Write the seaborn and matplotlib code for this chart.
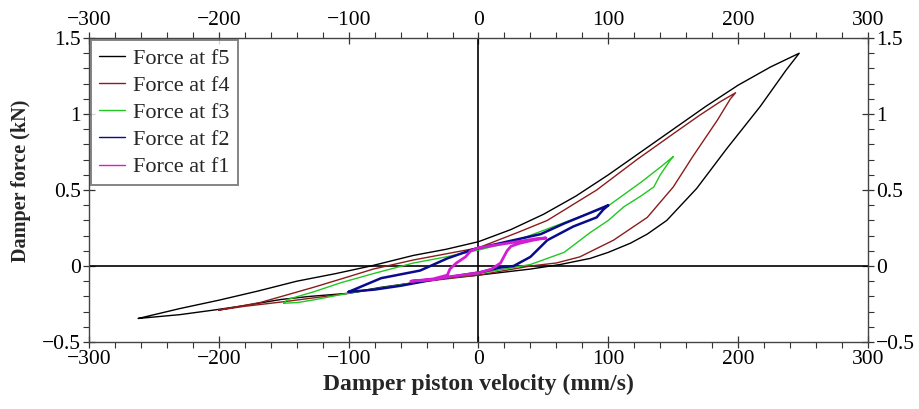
import pandas as pd
import numpy as np
import matplotlib
matplotlib.use('Agg')
import matplotlib.pyplot as plt
import seaborn as sns
from matplotlib.ticker import MultipleLocator

# Hysteresis loops: each loop = upper branch (min -> max)
# followed by the lower branch (max -> min).

# f5 (black)
f5_vel = [-262, -230, -200, -170, -140, -110, -83, -50, -25, 0, 25, 50, 75, 100, 125, 150, 175, 200, 225, 247,
          237, 217, 191, 168, 145, 130, 117, 100, 86, 63, 40, 20, 0, -25, -50, -75, -101, -130, -152, -180, -204, -230, -262]
f5_force = [-0.345, -0.28, -0.225, -0.165, -0.10, -0.05, 0.0, 0.07, 0.11, 0.16, 0.24, 0.34, 0.46, 0.60, 0.75, 0.90, 1.05, 1.19, 1.31, 1.40,
            1.29, 1.05, 0.77, 0.51, 0.30, 0.21, 0.15, 0.09, 0.05, 0.01, -0.02, -0.04, -0.06, -0.08, -0.11, -0.14, -0.18, -0.20, -0.22, -0.26, -0.29, -0.32, -0.345]

# f4 (brown)
f4_vel = [-200, -168, -127, -100, -81, -50, -25, 0, 30, 53, 91, 122, 150, 170, 186, 198,
          194, 184, 165, 150, 130, 104, 78, 60, 40, 20, 0, -50, -100, -150, -180, -200]
f4_force = [-0.29, -0.24, -0.14, -0.07, -0.02, 0.04, 0.08, 0.12, 0.22, 0.30, 0.50, 0.70, 0.87, 0.99, 1.08, 1.14,
            1.10, 0.96, 0.72, 0.52, 0.32, 0.17, 0.06, 0.02, 0.0, -0.03, -0.06, -0.11, -0.18, -0.235, -0.265, -0.29]

# f3 (green)
f3_vel = [-150, -147, -127, -106, -81, -50, -25, 0, 30, 58, 80, 99, 125, 140, 150,
          148, 140, 135, 125, 112, 100, 86, 66, 40, 20, 0, -50, -101, -125, -139, -150]
f3_force = [-0.245, -0.22, -0.17, -0.11, -0.05, 0.02, 0.06, 0.105, 0.17, 0.26, 0.33, 0.39, 0.55, 0.65, 0.72,
            0.70, 0.60, 0.52, 0.46, 0.39, 0.30, 0.22, 0.09, 0.01, -0.02, -0.05, -0.11, -0.18, -0.22, -0.24, -0.245]

# f2 (blue)
f2_vel = [-100, -75, -45, -24, -4, 27, 48, 66, 86, 100,
          96, 91, 73, 53, 40, 27, 17, 2, -35, -60, -80, -100]
f2_force = [-0.17, -0.08, -0.03, 0.05, 0.11, 0.17, 0.21, 0.28, 0.35, 0.40,
            0.37, 0.32, 0.26, 0.17, 0.06, 0.0, -0.01, -0.04, -0.09, -0.13, -0.155, -0.17]

# f1 (magenta)
f1_vel = [-52, -35, -22, 0, 10, 17, 22, 25, 32, 42, 52,
          45, 30, 15, 0, -6, -10, -17, -22, -24, -35, -52]
f1_force = [-0.10, -0.09, -0.07, -0.045, -0.02, 0.02, 0.10, 0.13, 0.15, 0.17, 0.185,
            0.18, 0.16, 0.14, 0.12, 0.10, 0.06, 0.02, -0.02, -0.06, -0.085, -0.10]

series_names = ['Force at f5', 'Force at f4', 'Force at f3', 'Force at f2', 'Force at f1']
series_vel = [f5_vel, f4_vel, f3_vel, f2_vel, f1_vel]
series_force = [f5_force, f4_force, f3_force, f2_force, f1_force]
colors = ['#000000', '#8b1c1c', '#22c722', '#0a0a8c', '#d21ed2']
widths = [1.0, 1.0, 1.0, 1.8, 2.0]

x_ticks = [-300, -200, -100, 0, 100, 200, 300]
x_tick_labels = ['\u2212300', '\u2212200', '\u2212100', '0', '100', '200', '300']
y_ticks = [-0.5, 0, 0.5, 1, 1.5]
y_tick_labels = ['\u22120.5', '0', '0.5', '1', '1.5']

frames = []
for name, v, f in zip(series_names, series_vel, series_force):
    frames.append(pd.DataFrame({'velocity': v, 'force': f, 'series': name}))
df = pd.concat(frames, ignore_index=True)

sns.set_style('ticks')
plt.rcParams['font.family'] = ['Liberation Serif', 'DejaVu Serif']

fig = plt.figure(figsize=(9.2, 4.09), dpi=100)
ax = fig.add_axes([0.0967, 0.1638, 0.8468, 0.7432])

ax.axhline(0, color='black', lw=1.2, zorder=1)
ax.axvline(0, color='black', lw=1.2, zorder=1)

for name, c, w in zip(series_names, colors, widths):
    sub = df[df['series'] == name]
    sns.lineplot(data=sub, x='velocity', y='force', sort=False, estimator=None,
                 color=c, lw=w, label=name, ax=ax, zorder=3)

ax.set_xlim(-300, 300)
ax.set_ylim(-0.5, 1.5)
ax.set_xticks(x_ticks)
ax.set_xticklabels(x_tick_labels)
ax.set_yticks(y_ticks)
ax.set_yticklabels(y_tick_labels)
ax.xaxis.set_minor_locator(MultipleLocator(20))
ax.yaxis.set_minor_locator(MultipleLocator(0.1))

ax.tick_params(which='major', direction='inout', length=8, width=0.9, colors='#333333',
               top=True, right=True, labeltop=True, labelright=True, labelsize=15.5, labelcolor='black', pad=2)
ax.tick_params(which='minor', direction='out', length=4, width=0.8, colors='#333333',
               top=True, right=True)
for s in ax.spines.values():
    s.set_linewidth(1.0)
    s.set_color('#444444')

ax.set_xlabel('Damper piston velocity (mm/s)', fontsize=17, fontweight='bold', labelpad=3)
ax.set_ylabel('Damper force (kN)', fontsize=14.5, fontweight='bold')
ax.yaxis.set_label_coords(-0.075, 0.53)

leg = ax.legend(loc='upper left', fontsize=16, frameon=True, fancybox=False,
                borderaxespad=0.1, handlelength=1.15, handletextpad=0.4, labelspacing=0.3,
                borderpad=0.35)
leg.get_frame().set_edgecolor('#666666')
leg.get_frame().set_linewidth(1.4)
for line in leg.get_lines():
    line.set_linewidth(1.0)

plt.savefig('out.png', dpi=100)
